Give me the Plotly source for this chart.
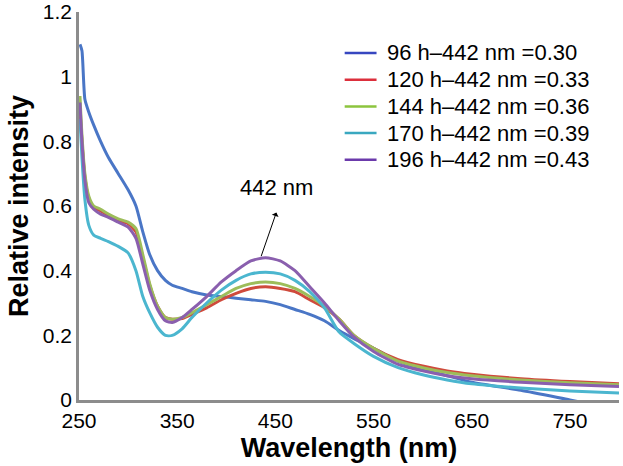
import plotly.graph_objects as go

wavelength = [251, 253, 256, 260, 265, 272, 280, 290, 300, 308, 315, 322, 330, 338, 345, 355, 365, 380,
              395, 410, 425, 440, 455, 470, 485, 500, 515, 530, 550, 575, 600, 625, 650, 700, 750, 800]

h96 = [1.10, 1.08, 0.93, 0.89, 0.85, 0.80, 0.75, 0.70, 0.65, 0.60, 0.52, 0.45, 0.40, 0.37, 0.355, 0.345,
       0.335, 0.325, 0.32, 0.315, 0.31, 0.305, 0.295, 0.28, 0.265, 0.245, 0.215, 0.19, 0.16, 0.12, 0.095,
       0.075, 0.055, 0.03, 0.0, -0.03]
h120 = [0.90, 0.80, 0.69, 0.62, 0.595, 0.585, 0.57, 0.555, 0.545, 0.52, 0.44, 0.355, 0.29, 0.255, 0.25,
        0.252, 0.265, 0.285, 0.31, 0.33, 0.345, 0.35, 0.345, 0.335, 0.31, 0.285, 0.25, 0.20, 0.16, 0.125,
        0.105, 0.09, 0.08, 0.066, 0.057, 0.05]
h144 = [0.94, 0.82, 0.70, 0.63, 0.60, 0.59, 0.575, 0.56, 0.55, 0.53, 0.45, 0.36, 0.29, 0.255, 0.25, 0.255,
        0.27, 0.295, 0.32, 0.345, 0.36, 0.365, 0.36, 0.345, 0.32, 0.29, 0.25, 0.20, 0.16, 0.12, 0.10,
        0.085, 0.075, 0.062, 0.053, 0.047]
h170 = [0.87, 0.75, 0.62, 0.54, 0.51, 0.50, 0.49, 0.475, 0.455, 0.40, 0.32, 0.27, 0.225, 0.20, 0.20, 0.22,
        0.255, 0.30, 0.34, 0.37, 0.39, 0.395, 0.39, 0.37, 0.335, 0.285, 0.21, 0.175, 0.135, 0.10, 0.078,
        0.062, 0.05, 0.037, 0.028, 0.022]
h196 = [0.92, 0.80, 0.68, 0.61, 0.59, 0.575, 0.565, 0.55, 0.535, 0.50, 0.42, 0.34, 0.28, 0.245, 0.24,
        0.255, 0.28, 0.32, 0.365, 0.40, 0.43, 0.44, 0.43, 0.40, 0.35, 0.30, 0.245, 0.195, 0.15, 0.11, 0.09,
        0.075, 0.066, 0.055, 0.047, 0.042]

names = ["96 h\u2013442 nm =0.30", "120 h\u2013442 nm =0.33", "144 h\u2013442 nm =0.36",
         "170 h\u2013442 nm =0.39", "196 h\u2013442 nm =0.43"]
series = [h96, h120, h144, h170, h196]
line_colors = ["#4a76c6", "#cf4a3c", "#9dbd5a", "#4bb6cf", "#8a5fae"]
legend_colors = ["#3747c0", "#dc2f3c", "#8cc43e", "#3aa8c0", "#6b3aab"]

FONT = "Arial"

fig = go.Figure()
for name, y, col in zip(names, series, line_colors):
    fig.add_trace(go.Scatter(x=wavelength, y=y, mode="lines", name=name, showlegend=False,
                             line=dict(color=col, width=3, shape="spline", smoothing=0.6)))

# legend drawn by hand so the rows sit as tight as in the original
for i, (name, col) in enumerate(zip(names, legend_colors)):
    ly = (388 - (41 + 26.7 * i)) / 388
    fig.add_shape(type="line", xref="paper", yref="paper", x0=0.492, x1=0.551, y0=ly, y1=ly,
                  line=dict(color=col, width=2.5))
    fig.add_annotation(xref="paper", yref="paper", x=0.566, y=ly, xanchor="left", yanchor="middle",
                       text=name, showarrow=False, font=dict(family=FONT, size=22, color="black"))

fig.add_annotation(x=451, y=0.58, ax=435, ay=0.44, xref="x", yref="y", axref="x", ayref="y",
                   text="", showarrow=True, arrowhead=1, arrowsize=1.2, arrowwidth=1, arrowcolor="black")
fig.add_annotation(x=451, y=0.656, text="442 nm", showarrow=False,
                   font=dict(family=FONT, size=22, color="black"))

fig.update_layout(
    width=623, height=466,
    template="none",
    plot_bgcolor="white", paper_bgcolor="white",
    margin=dict(l=79, r=4, t=12, b=66),
    font=dict(family=FONT, size=21, color="black"),
    showlegend=False,
    xaxis=dict(range=[250, 800], tickvals=[250, 350, 450, 550, 650, 750], showgrid=False,
               zeroline=False, showline=True, linecolor="#8c8c8c", linewidth=2.5, ticks="",
               automargin=False,
               title=dict(text="<b>Wavelength (nm)</b>", font=dict(size=27), standoff=8)),
    yaxis=dict(range=[0, 1.2], tickvals=[0, 0.2, 0.4, 0.6, 0.8, 1, 1.2], showgrid=False,
               zeroline=False, showline=True, linecolor="#8c8c8c", linewidth=2.5, ticks="",
               automargin=False,
               title=dict(text="<b>Relative intensity</b>", font=dict(size=27), standoff=7)),
)

# drop the default 8px page margin so the figure fills the window
fig.write_html("out.html", config={"displayModeBar": False},
               post_script="document.body.style.margin='0';")
